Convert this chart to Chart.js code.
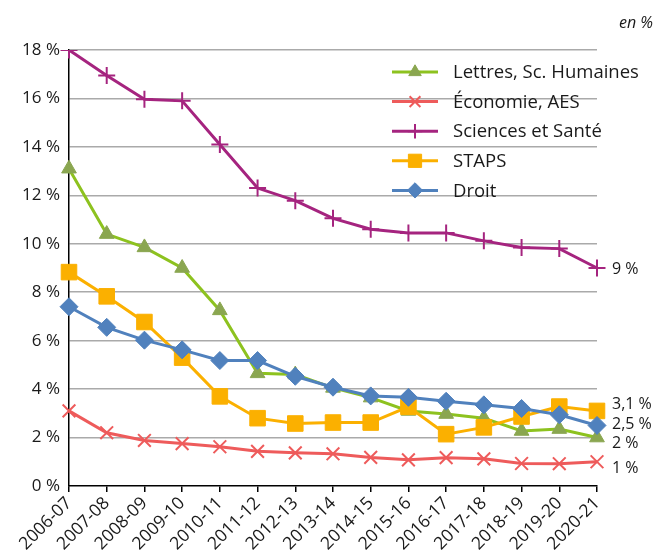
<!DOCTYPE html>
<html>
<head>
<meta charset="utf-8">
<script src="https://cdn.jsdelivr.net/npm/chart.js@4/dist/chart.umd.min.js"></script>
<style>
  html, body { margin: 0; padding: 0; background: #fff; }
  #wrap { width: 657px; height: 556px; }
</style>
</head>
<body>
<div id="wrap"><canvas id="chart" width="657" height="556"></canvas></div>
<script>
// Academic years
const years = ['2006-07', '2007-08', '2008-09', '2009-10', '2010-11', '2011-12', '2012-13',
  '2013-14', '2014-15', '2015-16', '2016-17', '2017-18', '2018-19', '2019-20', '2020-21'];

// Rates by discipline, in %
const lettres = [13.1, 10.4, 9.85, 9.0, 7.25, 4.65, 4.6, 4.05, 3.65, 3.1, 2.97, 2.8, 2.27, 2.35, 2.0];
const economie = [3.1, 2.2, 1.88, 1.75, 1.62, 1.43, 1.37, 1.33, 1.18, 1.08, 1.17, 1.12, 0.93, 0.92, 1.0];
const sciences = [18.0, 16.95, 15.97, 15.9, 14.1, 12.3, 11.78, 11.05, 10.6, 10.45, 10.45, 10.12, 9.85, 9.8, 9.0];
const staps = [8.83, 7.83, 6.77, 5.3, 3.7, 2.8, 2.58, 2.62, 2.62, 3.27, 2.14, 2.42, 2.87, 3.28, 3.1];
const droit = [7.4, 6.55, 6.02, 5.62, 5.18, 5.18, 4.53, 4.08, 3.72, 3.66, 3.5, 3.35, 3.2, 2.94, 2.5];

// Y axis ticks
const yTicks = [0, 2, 4, 6, 8, 10, 12, 14, 16, 18];

// Labels at the end of each series
const endLabels = [
  { series: 'Sciences et Santé', text: '9 %', dy: 1 },
  { series: 'STAPS', text: '3,1 %', dy: -6 },
  { series: 'Droit', text: '2,5 %', dy: -1 },
  { series: 'Lettres, Sc. Humaines', text: '2 %', dy: 6 },
  { series: 'Économie, AES', text: '1 %', dy: 7 }
];

const FONT = "'Open Sans', 'Noto Sans', sans-serif";
const TEXT = '#1a1a1a';

Chart.defaults.font.family = FONT;
Chart.defaults.color = TEXT;

const datasets = [
  { label: 'Lettres, Sc. Humaines', data: lettres, borderColor: '#8dc21f', backgroundColor: '#8aa650',
    pointBorderColor: '#8aa650', pointStyle: 'triangle', pointRadius: 8.5, pointBorderWidth: 1, order: 5 },
  { label: 'Économie, AES', data: economie, borderColor: '#ee5b5b', backgroundColor: '#ee5b5b',
    pointBorderColor: '#ee5b5b', pointStyle: 'crossRot', pointRadius: 9, pointBorderWidth: 2, order: 4 },
  { label: 'Sciences et Santé', data: sciences, borderColor: '#a5247f', backgroundColor: '#a5247f',
    pointBorderColor: '#a5247f', pointStyle: 'cross', pointRadius: 8.5, pointBorderWidth: 2, order: 3 },
  { label: 'STAPS', data: staps, borderColor: '#fbb000', backgroundColor: '#fbb000',
    pointBorderColor: '#fbb000', pointStyle: 'rect', pointRadius: 11, pointBorderWidth: 1, order: 2 },
  { label: 'Droit', data: droit, borderColor: '#5081bd', backgroundColor: '#5081bd',
    pointBorderColor: '#5081bd', pointStyle: 'rectRot', pointRadius: 9, pointBorderWidth: 1, order: 1 }
];
datasets.forEach(d => {
  d.borderWidth = 3;
  d.tension = 0;
  d.fill = false;
  d.pointBackgroundColor = d.backgroundColor;
  d.pointHoverRadius = d.pointRadius;
});

// Legend box, end-of-line values and the unit note
const annotations = {
  id: 'annotations',
  afterDraw(chart) {
    const ctx = chart.ctx;
    const ys = chart.scales.y;
    const xs = chart.scales.x;
    ctx.save();

    // unit note
    ctx.font = 'italic 16px ' + FONT;
    ctx.fillStyle = TEXT;
    ctx.textAlign = 'right';
    ctx.textBaseline = 'middle';
    ctx.fillText('en %', 653, 23);

    // legend
    const lx0 = 392, lx1 = 438, tx = 453, top = 72, step = 29.6;
    chart.data.datasets.forEach((d, i) => {
      const y = top + i * step;
      ctx.strokeStyle = d.borderColor;
      ctx.lineWidth = 3;
      ctx.beginPath();
      ctx.moveTo(lx0, y);
      ctx.lineTo(lx1, y);
      ctx.stroke();
      ctx.fillStyle = d.pointBackgroundColor;
      ctx.strokeStyle = d.pointBorderColor;
      ctx.lineWidth = d.pointBorderWidth;
      Chart.helpers.drawPoint(ctx, {
        pointStyle: d.pointStyle,
        radius: d.pointRadius * 0.85,
        rotation: 0,
        borderWidth: d.pointBorderWidth
      }, (lx0 + lx1) / 2, y);
      ctx.fillStyle = TEXT;
      ctx.font = '18.5px ' + FONT;
      ctx.textAlign = 'left';
      ctx.textBaseline = 'middle';
      ctx.fillText(d.label, tx, y + 1);
    });

    // values at the end of the lines
    ctx.font = '16px ' + FONT;
    ctx.fillStyle = TEXT;
    ctx.textAlign = 'left';
    ctx.textBaseline = 'middle';
    const lastIdx = years.length - 1;
    endLabels.forEach(l => {
      const d = chart.data.datasets.find(ds => ds.label === l.series);
      const v = d.data[lastIdx];
      ctx.fillText(l.text, xs.getPixelForValue(lastIdx) + 15, ys.getPixelForValue(v) + l.dy);
    });
    ctx.restore();
  }
};

new Chart(document.getElementById('chart'), {
  type: 'line',
  data: { labels: years, datasets },
  options: {
    responsive: false,
    animation: false,
    devicePixelRatio: 1,
    layout: { padding: { top: 50, right: 60, left: 0, bottom: 0 } },
    plugins: { legend: { display: false }, tooltip: { enabled: false } },
    scales: {
      x: {
        offset: false,
        grid: { drawOnChartArea: false, drawTicks: true, tickLength: 6, color: '#000', lineWidth: 1.5 },
        border: { color: '#000', width: 1.5 },
        ticks: { autoSkip: false, maxRotation: 45, minRotation: 45, padding: 1,
          font: { size: 17.5 }, color: TEXT },
        afterFit: s => { s.height = 70; }
      },
      y: {
        min: 0,
        max: 18,
        afterBuildTicks: s => { s.ticks = yTicks.map(v => ({ value: v })); },
        grid: {
          drawTicks: false,
          lineWidth: 1.5,
          color: c => (c.tick && c.tick.value === 0) ? 'rgba(0,0,0,0)' : '#aaaaaa'
        },
        border: { color: '#000', width: 1.5 },
        ticks: { padding: 9, font: { size: 17 }, color: TEXT,
          callback: v => v + ' %' },
        afterFit: s => { s.width = 69; }
      }
    }
  },
  plugins: [annotations]
});
</script>
</body>
</html>
